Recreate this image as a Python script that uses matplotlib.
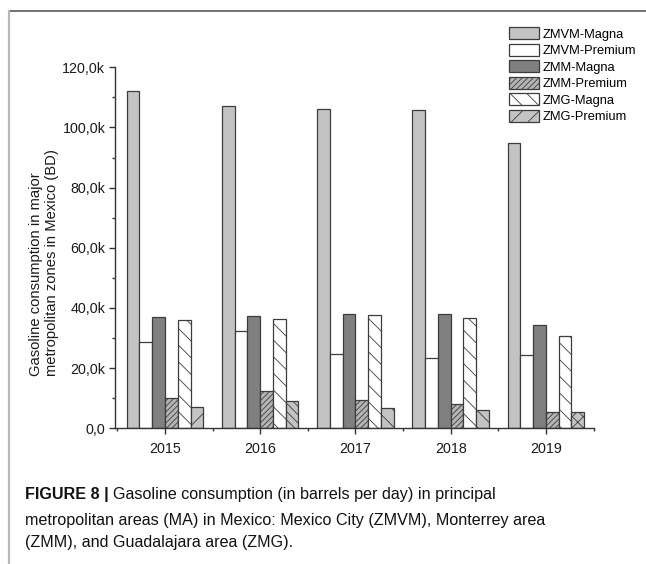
import matplotlib
matplotlib.use("Agg")
import matplotlib.pyplot as plt
from matplotlib.lines import Line2D
from matplotlib.ticker import MultipleLocator, FuncFormatter
import numpy as np

years = [2015, 2016, 2017, 2018, 2019]
series_names = ["ZMVM-Magna", "ZMVM-Premium", "ZMM-Magna",
                "ZMM-Premium", "ZMG-Magna", "ZMG-Premium"]

# barrels per day
zmvm_magna = [112100, 107200, 106200, 105800, 94900]
zmvm_premium = [28700, 32300, 24800, 23300, 24500]
zmm_magna = [36900, 37200, 38100, 37900, 34200]
zmm_premium = [10000, 12500, 9400, 8000, 5300]
zmg_magna = [36000, 36300, 37700, 36600, 30800]
zmg_premium = [7100, 9000, 6600, 6200, 5300]

all_series = [zmvm_magna, zmvm_premium, zmm_magna,
              zmm_premium, zmg_magna, zmg_premium]

# fill colours / hatches (the last series has an odd pattern in the scan)
faces = ["#c3c3c3", "#ffffff", "#808080", "#b4b4b4", "#ffffff", "#c3c3c3"]
hatches = [None, None, None, "//////", "\\\\", "//"]
zmg_premium_hatch = ["//", "\\\\\\\\", "\\\\", "\\\\", "xxx"]

plt.rcParams["font.family"] = ["Liberation Sans", "DejaVu Sans"]
plt.rcParams["hatch.linewidth"] = 0.6

fig = plt.figure(figsize=(6.46, 5.64), dpi=100)
ax = fig.add_axes([0.178, 0.2406, 0.7415, 0.6401])

edge = "#3c3c3c"
width = 0.134
x = np.array(years, dtype=float)
for i, (name, vals) in enumerate(zip(series_names, all_series)):
    bars = ax.bar(x + (i - 2.5) * width, vals, width, color=faces[i],
                  edgecolor=edge, linewidth=0.9, hatch=hatches[i], label=name)
    if name == "ZMG-Premium":
        for b, h in zip(bars, zmg_premium_hatch):
            b.set_hatch(h)

ax.set_xlim(2014.475, 2019.505)
ax.set_ylim(0, 120000)
ax.set_xticks(years)
ax.set_xticklabels([str(y) for y in years])
ax.xaxis.set_minor_locator(MultipleLocator(1, offset=0.5))
ax.yaxis.set_major_locator(MultipleLocator(20000))
ax.yaxis.set_minor_locator(MultipleLocator(10000))


def kfmt(v, pos):
    return f"{v / 1000:.1f}k".replace(".", ",") if v else "0,0"


ax.yaxis.set_major_formatter(FuncFormatter(kfmt))

for s in ["top", "right"]:
    ax.spines[s].set_visible(False)
for s in ["left", "bottom"]:
    ax.spines[s].set_color("#333333")
    ax.spines[s].set_linewidth(1.0)
ax.tick_params(axis="both", which="major", direction="out", length=4,
               width=1.0, color="#333333", labelsize=10.3, labelcolor="#1a1a1a")
ax.tick_params(axis="both", which="minor", direction="out", length=2.2,
               width=1.0, color="#333333")
ax.tick_params(axis="x", which="major", pad=6)
ax.tick_params(axis="y", which="major", pad=3)

fig.text(0.068, 0.535,
         "Gasoline consumption in major\nmetropolitan zones in Mexico (BD)",
         rotation=90, ha="center", va="center", multialignment="left",
         fontsize=10.6, color="#1a1a1a", linespacing=1.25)

ax.legend(loc="upper left", bbox_to_anchor=(0.788, 0.9515),
          bbox_transform=fig.transFigure, frameon=False, fontsize=9.3,
          handlelength=2.3, handleheight=1.05, handletextpad=0.3,
          labelspacing=0.24, borderpad=0, borderaxespad=0)

# page frame lines around the figure
fig.add_artist(Line2D([8.5 / 646, 1], [1 - 10.5 / 564] * 2,
                      transform=fig.transFigure, color="#666666", lw=1.3))
fig.add_artist(Line2D([8.5 / 646] * 2, [0, 1 - 10.5 / 564],
                      transform=fig.transFigure, color="#b8b8b8", lw=1.6))

# caption
cap_size = 11.6
cap_x = 25 / 646
lines_y = [1 - 495 / 564, 1 - 520 / 564, 1 - 543 / 564]
bold = fig.text(cap_x, lines_y[0], "FIGURE 8 | ", fontsize=cap_size,
                fontweight="bold", va="center", color="#111111")
renderer = fig.canvas.get_renderer()
bb = bold.get_window_extent(renderer=renderer)
fig.text(bb.x1 / fig.bbox.width, lines_y[0],
         "Gasoline consumption (in barrels per day) in principal",
         fontsize=cap_size, va="center", color="#111111")
fig.text(cap_x, lines_y[1],
         "metropolitan areas (MA) in Mexico: Mexico City (ZMVM), Monterrey area",
         fontsize=cap_size, va="center", color="#111111")
fig.text(cap_x, lines_y[2], "(ZMM), and Guadalajara area (ZMG).",
         fontsize=cap_size, va="center", color="#111111")

fig.savefig("out.png", dpi=100)
